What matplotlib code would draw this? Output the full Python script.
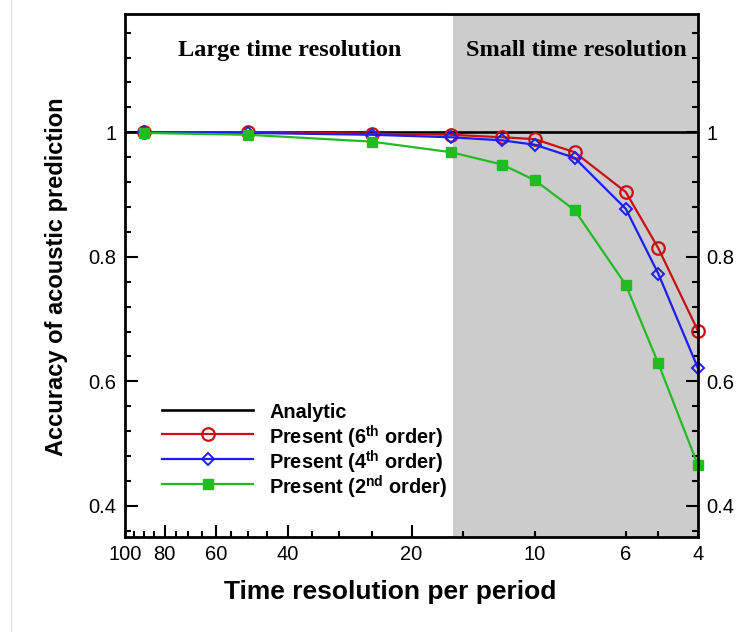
import numpy as np
import matplotlib
matplotlib.use("Agg")
import matplotlib.pyplot as plt
from matplotlib.ticker import MultipleLocator, FixedLocator
from matplotlib.lines import Line2D

plt.rcParams['font.family'] = ['Liberation Sans', 'DejaVu Sans']
plt.rcParams['mathtext.fontset'] = 'custom'
plt.rcParams['mathtext.rm'] = 'Liberation Sans:bold'
plt.rcParams['mathtext.bf'] = 'Liberation Sans:bold'

# Datos
resolucion = [90, 50, 25, 16, 12, 10, 8, 6, 5, 4]
acc_6 = [1.000, 1.000, 0.998, 0.996, 0.992, 0.989, 0.968, 0.904, 0.814, 0.681]
acc_4 = [1.000, 0.999, 0.996, 0.992, 0.987, 0.980, 0.959, 0.877, 0.773, 0.621]
acc_2 = [0.999, 0.996, 0.985, 0.968, 0.948, 0.923, 0.875, 0.755, 0.629, 0.465]
analitico_x = [100, 4]
analitico_y = [1.0, 1.0]
limite_zona = 15.8
etiquetas_x = {100: "100", 80: "80", 60: "60", 40: "40", 20: "20", 10: "10", 6: "6", 4: "4"}
nombres = ["Analytic", r"Present (6$^{\mathbf{th}}$ order)",
           r"Present (4$^{\mathbf{th}}$ order)", r"Present (2$^{\mathbf{nd}}$ order)"]

W, H = 755, 632
fig = plt.figure(figsize=(W / 100, H / 100), dpi=100)
ax = fig.add_axes([125 / W, (H - 537) / H, 573 / W, 523 / H])

# Zona gris
ax.axvspan(limite_zona, 4, color="#CCCCCC", zorder=0, lw=0)

estilos = [
    dict(color="black", lw=1.9, zorder=2),
    dict(color="#C81010", lw=1.6, marker="o", ms=9, mfc="none", mec="#C81010", mew=1.6, zorder=3),
    dict(color="#1E1EF0", lw=1.6, marker="D", ms=6.5, mfc="none", mec="#1E1EF0", mew=1.4, zorder=4),
    dict(color="#22BB22", lw=1.6, marker="s", ms=6.5, mfc="#22BB22", mec="#22BB22", zorder=5),
]

ax.plot(analitico_x, analitico_y, **estilos[0])
for serie, est in zip([acc_6, acc_4, acc_2], estilos[1:]):
    ax.plot(resolucion, serie, clip_on=False, **est)

ax.set_xscale("log")
ax.set_xlim(100, 4)
ax.set_ylim(0.35, 1.19)

# Ticks del eje x
mayores = [80, 60, 40, 20]
menores = [100, 95, 90, 85, 75, 70, 65, 55, 50, 45, 35, 30, 25, 15, 10, 6, 5, 4]
ax.xaxis.set_major_locator(FixedLocator(mayores))
ax.set_xticklabels([etiquetas_x[v] for v in mayores])
ax.xaxis.set_minor_locator(FixedLocator(menores))
ax.set_xticklabels([etiquetas_x.get(v, "") for v in menores], minor=True)

ax.yaxis.set_major_locator(MultipleLocator(0.2))
ax.yaxis.set_minor_locator(MultipleLocator(0.04))
ax.yaxis.set_major_formatter(plt.FuncFormatter(lambda v, p: "1" if abs(v - 1) < 1e-6 else f"{v:.1f}"))

ax.tick_params(axis="both", which="both", direction="in", labelsize=14.5, width=1.5)
ax.tick_params(axis="both", which="major", length=9, pad=6)
ax.tick_params(axis="both", which="minor", length=4.5, pad=6)
ax.tick_params(axis="x", which="both", top=False)
ax.tick_params(axis="y", which="both", left=True, right=True, labelleft=True, labelright=True)

for s in ax.spines.values():
    s.set_linewidth(2)
    s.set_zorder(6)

ax.text(0.288, 0.931, "Large time resolution", transform=ax.transAxes, ha="center", va="center",
        fontsize=17.5, fontweight="bold", family="Liberation Serif")
ax.text(0.787, 0.931, "Small time resolution", transform=ax.transAxes, ha="center", va="center",
        fontsize=17.5, fontweight="bold", family="Liberation Serif")

fig.text(390 / W, 1 - 592 / H, "Time resolution per period", ha="center", va="center",
         fontsize=19, fontweight="bold")
fig.text(57 / W, 1 - 277 / H, "Accuracy of acoustic prediction", ha="center", va="center",
         rotation=90, fontsize=17, fontweight="bold")

# Leyenda dibujada a mano (filas con separacion uniforme)
filas_px = [410, 434, 459, 484]
x0, x1, xt = (162 - 125) / 573, (253 - 125) / 573, (269 - 125) / 573
for yp, nombre, est in zip(filas_px, nombres, estilos):
    yf = (537 - yp) / 523
    linea = {k: v for k, v in est.items() if k not in ("marker", "zorder")}
    ax.plot([x0, x1], [yf, yf], transform=ax.transAxes, zorder=7, clip_on=False, **linea)
    if "marker" in est:
        ax.plot([(x0 + x1) / 2], [yf], transform=ax.transAxes, zorder=7, ls="none",
                clip_on=False, **{k: v for k, v in est.items() if k not in ("zorder", "lw")})
    ax.text(xt, yf, nombre, transform=ax.transAxes, ha="left", va="center_baseline",
            fontsize=14.3, fontweight="bold", zorder=7)

# linea gris tenue a la izquierda
fig.add_artist(Line2D([10.5 / W, 10.5 / W], [0, 1], color="#E0E0E0", lw=1))

fig.savefig("out.png", dpi=100)
